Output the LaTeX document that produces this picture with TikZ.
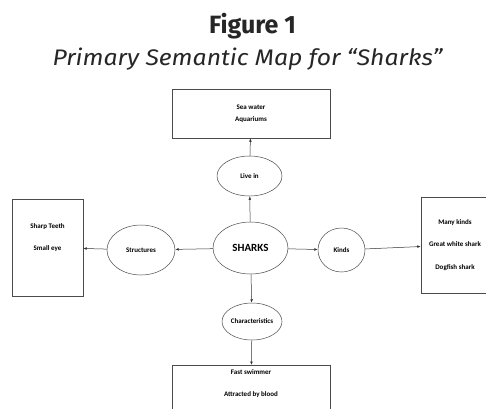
\documentclass[tikz,border=0pt]{standalone}
\usepackage{fontspec}
\setmainfont{Carlito}
\newfontfamily\titlefont{Fira Sans}
\usetikzlibrary{arrows.meta, positioning, shapes.geometric}

\begin{document}
\begin{tikzpicture}[x=1pt, y=-1pt, >={Latex[length=3.5pt,width=2.6pt]}]
        \tikzstyle{box}=[rectangle, draw=black!70, line width=0.5pt, align=center, inner sep=0pt, font=\fontsize{7}{8.5}\selectfont\bfseries]
        \tikzstyle{bubble}=[ellipse, draw=black!70, line width=0.5pt, inner sep=0pt, font=\fontsize{7}{8.5}\selectfont\bfseries]
        \tikzstyle{words}=[align=center, inner sep=0pt, font=\fontsize{7}{8.5}\selectfont\bfseries]
        \tikzstyle{link}=[->, black!80, line width=0.5pt]
        \clip (0,0) rectangle (486,408);
        \fill[white] (0,0) rectangle (486,408);

        \node[anchor=base, text=black!85, font=\titlefont\bfseries\fontsize{25}{30}\selectfont] (fig) at (252.5,33) {Figure 1};
        \node[anchor=base, text=black!85, font=\titlefont\itshape\fontsize{22.5}{27}\selectfont] (caption) at (247.5,65) {\scalebox{1.1}[1]{Primary Semantic Map for “Sharks”}};

        \node[bubble, minimum width=75pt, minimum height=52pt, font=\fontsize{11}{12}\selectfont\bfseries] (sharks) at (250.5,248) {SHARKS};
        \node[bubble, minimum width=65pt, minimum height=40pt] (livein) at (249.5,176) {Live in};
        \node[bubble, minimum width=68pt, minimum height=50pt] (structures) at (141,250) {Structures};
        \node[bubble, minimum width=47pt, minimum height=44pt] (kinds) at (341.5,250) {Kinds};
        \node[bubble, minimum width=60pt, minimum height=37pt] (traits) at (252,321.5) {Characteristics};

        \node[box, minimum width=158pt, minimum height=49pt] (habitat) at (251,113.5) {Sea water\\[3pt]Aquariums};
        \node[box, minimum width=71pt, minimum height=97pt] (parts) at (47.5,247.5) {};
        \node[words] (partstext) at ([yshift=10pt]parts.center) {Sharp Teeth\\[14pt]Small eye};
        \node[box, minimum width=68pt, minimum height=96pt] (kindlist) at (455,245) {Many kinds\\[14pt]Great white shark\\[14pt]Dogfish shark};
        \node[box, minimum width=158pt, minimum height=70pt, anchor=north] (traitlist) at (251,365) {};
        \node[words, anchor=north] (traittext) at ([yshift=-4pt]traitlist.north) {Fast swimmer\\[14pt]Attracted by blood};

        \draw[link] (sharks) -- (livein);
        \draw[link] (livein) -- (habitat);
        \draw[link] (sharks) -- (structures);
        \draw[link] (structures) -- (parts);
        \draw[link] (sharks) -- (kinds);
        \draw[link] (kinds) -- (kindlist);
        \draw[link] (sharks) -- (traits);
        \draw[link] (traits) -- (traitlist);
\end{tikzpicture}
\end{document}
